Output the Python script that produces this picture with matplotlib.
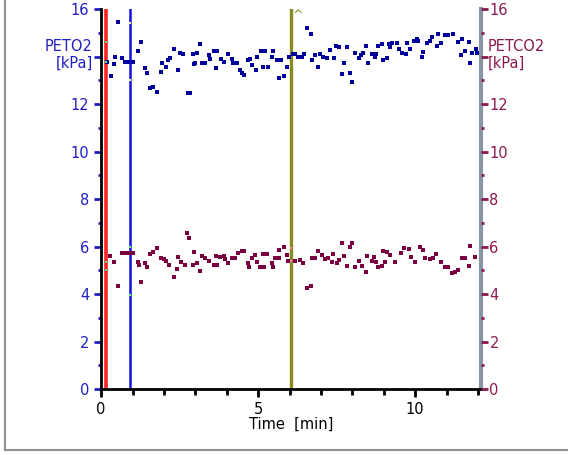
import matplotlib
matplotlib.use("Agg")
import matplotlib.pyplot as plt
from matplotlib.lines import Line2D
from matplotlib.ticker import MultipleLocator, FuncFormatter

# end-tidal O2, time [min] / value [kPa]
t_o2 = [0.20, 0.30, 0.40, 0.44, 0.54, 0.65, 0.75, 0.86, 1.02, 1.18, 1.28, 1.39,
        1.46, 1.55, 1.66, 1.79, 1.92, 1.95, 2.06, 2.13, 2.19, 2.31, 2.45, 2.50,
        2.61, 2.77, 2.82, 2.93, 2.96, 3.00, 3.05, 3.15, 3.21, 3.31, 3.42, 3.47,
        3.58, 3.65, 3.69, 3.81, 3.92, 4.05, 4.16, 4.21, 4.32, 4.41, 4.48, 4.56,
        4.67, 4.75, 4.82, 4.93, 4.98, 5.09, 5.17, 5.22, 5.31, 5.44, 5.47, 5.60,
        5.65, 5.73, 5.81, 5.91, 5.97, 6.12, 6.18, 6.28, 6.39, 6.46, 6.57, 6.68,
        6.71, 6.82, 6.92, 6.97, 7.08, 7.19, 7.29, 7.42, 7.47, 7.59, 7.66, 7.72,
        7.84, 7.93, 7.98, 8.09, 8.20, 8.27, 8.33, 8.44, 8.49, 8.62, 8.73, 8.76,
        8.83, 8.94, 8.99, 9.10, 9.18, 9.20, 9.26, 9.42, 9.47, 9.58, 9.70, 9.74,
        9.84, 9.95, 10.05, 10.10, 10.21, 10.24, 10.37, 10.48, 10.55, 10.69, 10.74,
        10.82, 10.96, 11.06, 11.22, 11.36, 11.46, 11.49, 11.59, 11.70, 11.75,
        11.82, 11.93, 11.96]
peto2 = [13.78, 13.19, 13.67, 14.00, 15.44, 13.92, 13.78, 13.78, 13.78, 14.24, 14.60, 13.53,
         13.32, 12.66, 12.73, 12.52, 13.33, 13.71, 13.57, 13.85, 13.92, 14.32, 13.43, 14.16,
         14.13, 12.45, 12.45, 14.13, 13.67, 13.71, 14.16, 14.51, 13.71, 13.71, 14.06, 13.89,
         14.24, 13.50, 14.24, 13.89, 13.78, 14.13, 13.89, 13.71, 13.71, 13.43, 13.32, 13.22,
         13.85, 13.89, 13.64, 13.43, 13.99, 14.24, 13.55, 14.24, 13.57, 13.99, 14.24, 13.85,
         13.11, 13.85, 13.18, 13.55, 13.99, 14.13, 14.13, 13.99, 13.99, 14.13, 15.19, 14.97,
         13.85, 14.06, 13.57, 14.13, 13.99, 13.92, 14.27, 13.92, 14.44, 14.39, 13.25, 13.71,
         14.39, 13.32, 12.94, 14.16, 13.92, 14.06, 14.16, 14.44, 13.71, 14.13, 13.99, 14.13,
         14.44, 14.51, 13.85, 13.92, 14.51, 14.39, 14.58, 14.58, 14.30, 14.16, 14.10, 14.58,
         14.32, 14.67, 14.72, 14.67, 13.99, 14.18, 14.58, 14.67, 14.84, 14.46, 14.95,
         14.58, 14.93, 14.93, 14.95, 14.63, 14.06, 14.72, 14.24, 14.63, 13.71,
         14.16, 14.30, 14.16]

# end-tidal CO2
t_co2 = [0.28, 0.41, 0.54, 0.67, 0.77, 0.90, 1.02, 1.16, 1.20, 1.28, 1.39, 1.46,
         1.55, 1.66, 1.79, 1.90, 2.00, 2.08, 2.17, 2.32, 2.42, 2.45, 2.56, 2.66,
         2.72, 2.79, 2.93, 2.96, 3.05, 3.15, 3.21, 3.31, 3.44, 3.58, 3.65, 3.69,
         3.79, 3.90, 3.93, 4.05, 4.16, 4.27, 4.37, 4.48, 4.56, 4.69, 4.71, 4.82,
         4.90, 4.96, 5.06, 5.17, 5.20, 5.28, 5.44, 5.46, 5.54, 5.65, 5.67, 5.81,
         5.91, 5.94, 6.18, 6.32, 6.44, 6.57, 6.68, 6.71, 6.82, 6.92, 7.03, 7.13,
         7.24, 7.35, 7.40, 7.50, 7.59, 7.66, 7.72, 7.84, 7.93, 7.98, 8.09, 8.20,
         8.30, 8.44, 8.48, 8.62, 8.68, 8.76, 8.83, 8.94, 8.97, 9.04, 9.10, 9.20,
         9.35, 9.56, 9.66, 9.82, 9.87, 9.98, 10.14, 10.24, 10.30, 10.46, 10.57,
         10.67, 10.83, 10.94, 11.04, 11.17, 11.27, 11.38, 11.49, 11.59, 11.70,
         11.75, 11.91]
petco2 = [5.61, 5.36, 4.35, 5.71, 5.71, 5.71, 5.71, 5.36, 5.22, 4.49, 5.29, 5.12,
          5.67, 5.78, 5.95, 5.50, 5.46, 5.39, 5.22, 4.73, 5.04, 5.55, 5.36, 5.22,
          6.56, 6.35, 5.22, 5.76, 5.29, 4.97, 5.61, 5.50, 5.39, 5.22, 5.61, 5.22,
          5.55, 5.61, 5.46, 5.29, 5.50, 5.50, 5.71, 5.82, 5.82, 5.29, 5.15, 5.50,
          5.64, 5.36, 5.15, 5.67, 5.15, 5.67, 5.29, 5.15, 5.50, 5.50, 5.85, 5.99,
          5.64, 5.40, 5.40, 5.43, 5.29, 4.24, 4.35, 5.50, 5.50, 5.81, 5.64, 5.46,
          5.50, 5.33, 5.67, 5.29, 5.43, 6.13, 5.61, 5.19, 5.99, 6.13, 5.15, 5.39,
          5.19, 4.94, 5.61, 5.39, 5.55, 5.36, 5.15, 5.19, 5.81, 5.36, 5.76, 5.64,
          5.36, 5.71, 5.92, 5.88, 5.57, 5.36, 5.99, 5.85, 5.50, 5.46, 5.50,
          5.68, 5.36, 5.15, 5.15, 4.87, 4.94, 5.01, 5.50, 5.50, 5.18,
          6.02, 5.57]

# event markers [min]
events = [0.15, 0.92, 6.05]
event_colors = ["#ff2020", "#1010e0", "#8a8a20"]
event_widths = [2.6, 1.8, 2.4]

o2_col = "#2020c0"
co2_col = "#8b1a50"

# the 14 kPa label is left out, the axis titles sit there
def ylab(v, pos):
    return "" if v == 14 else "%d" % v

fig = plt.figure(figsize=(5.68, 4.55), dpi=100)
ax = fig.add_axes([0.178, 0.145, 0.669, 0.835])

for x, c, w in zip(events, event_colors, event_widths):
    ax.axvline(x, color=c, lw=w, zorder=1)

ax.plot(t_o2, peto2, "s", color="#00009c", ms=3, mew=0, zorder=3)
ax.plot(t_co2, petco2, "s", color="#7a0040", ms=3, mew=0, zorder=3)

# cursor ticks where the event lines cross the data
ax.plot([0.15, 0.15, 0.15, 0.15], [14.6, 13.77, 5.35, 5.0], "s", color="#30ff80", ms=2, mew=0, zorder=4)
ax.plot([0.92, 0.92], [15.4, 13.0], "s", color="#ffff90", ms=2, mew=0, zorder=4)
ax.plot([0.92, 0.92], [6.0, 3.96], "s", color="#60ff60", ms=2, mew=0, zorder=4)
ax.plot([6.05, 6.05], [5.94, 5.4], "s", color="#ff80c0", ms=2, mew=0, zorder=4)
ax.text(6.27, 15.75, "^", color="#8a8a20", fontsize=9, ha="center", va="center")

ax.set_xlim(0, 12.1)
ax.set_ylim(0, 16)
ax.xaxis.set_major_locator(MultipleLocator(5))
ax.xaxis.set_minor_locator(MultipleLocator(1))
ax.yaxis.set_major_locator(MultipleLocator(2))
ax.yaxis.set_minor_locator(MultipleLocator(1))
ax.yaxis.set_major_formatter(FuncFormatter(ylab))

ax.spines["top"].set_visible(False)
ax.spines["left"].set_linewidth(2)
ax.spines["bottom"].set_linewidth(2)
ax.spines["right"].set_color("#8896a4")
ax.spines["right"].set_linewidth(3)

ax.tick_params(axis="x", which="major", length=6, width=2, labelsize=10.5, colors="black")
ax.tick_params(axis="x", which="minor", length=4, width=2)
ax.tick_params(axis="y", which="major", length=5, width=2, colors=o2_col, labelsize=10.5)
ax.tick_params(axis="y", which="minor", length=2, width=2, colors=o2_col)

ax2 = ax.twinx()
ax2.set_ylim(0, 16)
ax2.yaxis.set_major_locator(MultipleLocator(2))
ax2.yaxis.set_minor_locator(MultipleLocator(1))
ax2.yaxis.set_major_formatter(FuncFormatter(ylab))
for s in ax2.spines.values():
    s.set_visible(False)
ax2.tick_params(axis="y", which="major", length=5, width=2, colors=co2_col, labelsize=10.5, pad=1)
ax2.tick_params(axis="y", which="minor", length=2, width=2, colors=co2_col)

ax.text(-0.022, 0.88, "PETO2\n[kPa]", transform=ax.transAxes, color=o2_col,
        fontsize=10.5, ha="right", va="center", multialignment="right", linespacing=1.15)
ax.text(1.018, 0.88, "PETCO2\n[kPa]", transform=ax.transAxes, color=co2_col,
        fontsize=10.5, ha="left", va="center", multialignment="left", linespacing=1.15)
ax.set_xlabel("Time  [min]", fontsize=10.5, labelpad=0)

# window frame
fig.add_artist(Line2D([5 / 568, 5 / 568], [5 / 455, 1], color="#909090", lw=1.5, transform=fig.transFigure))
fig.add_artist(Line2D([5 / 568, 1], [5 / 455, 5 / 455], color="#909090", lw=1.5, transform=fig.transFigure))

fig.savefig("out.png", dpi=100)
